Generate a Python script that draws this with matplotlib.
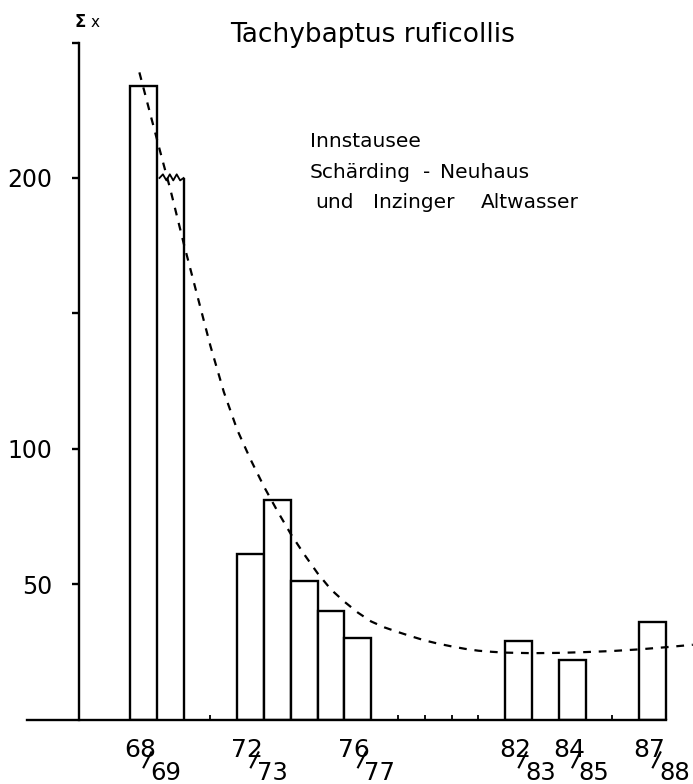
import matplotlib
matplotlib.use('Agg')
import matplotlib.pyplot as plt
import numpy as np

# seasons on the x axis (one bar slot each)
seasons = ['68/69', '69/70', '70/71', '71/72', '72/73', '73/74', '74/75',
           '75/76', '76/77', '77/78', '78/79', '79/80', '80/81', '81/82',
           '82/83', '83/84', '84/85', '85/86', '86/87', '87/88']
# sum of counted birds per season (nan = no count)
counts = [234, 200, np.nan, np.nan, 61, 81, 51, 40, 30, np.nan, np.nan,
          np.nan, np.nan, np.nan, 29, np.nan, 22, np.nan, np.nan, 36]
broken = ['69/70']  # bar cut at the top (zigzag)
labelled = ['68/69', '72/73', '76/77', '82/83', '84/85', '87/88']

# dashed trend line (x in season slots)
trend_x = [0.35, 0.8, 1.2, 1.5, 2.0, 2.5, 3.0, 3.5, 4.0, 4.5, 5.0, 5.5, 6.0,
           6.5, 7.0, 7.5, 8.0, 8.5, 9.0, 9.5, 10.0, 10.5, 11.0, 11.5, 12.0,
           12.5, 13.0, 13.5, 14.0, 15.0, 16.0, 17.0, 18.0, 19.0, 20.0, 21.0]
trend_y = [239, 222, 207, 196, 176, 157, 138, 121, 107, 96, 86, 77, 68.5,
           61, 54, 48, 43.5, 39.5, 36.2, 34, 32.3, 30.7, 29.2, 28, 27,
           26.1, 25.4, 25, 24.7, 24.5, 24.6, 24.9, 25.3, 25.9, 26.7, 27.6]

yticks = [50, 100, 150, 200, 250]
ytick_labels = ['50', '100', '', '200', '']

lw = 1.7
plt.rcParams['font.family'] = ['DejaVu Sans']

fig = plt.figure(figsize=(6.93, 7.84), dpi=100)
ax = fig.add_axes([27 / 693, 1 - 719.5 / 784, 666 / 693, (719.5 - 42.6) / 784])
ax.set_xlim(-3.843, 21.007)
ax.set_ylim(0, 250)

# bars
vals = np.array(counts, dtype=float)
for i, s in enumerate(seasons):
    v = vals[i]
    if np.isnan(v):
        continue
    if s in broken:
        # only the right side and a zigzag top
        ax.vlines(i + 1, 0, v, color='black', lw=lw, zorder=2)
        zx = np.linspace(i + 0.1, i + 1, 8)
        zy = v + np.array([0, 1.5, -1, 1.5, -1, 1.5, -1, 0]) * 0.9
        ax.plot(zx, zy, color='black', lw=1.3, zorder=2)
    else:
        ax.bar(i, v, width=1.0, align='edge', facecolor='white',
               edgecolor='black', linewidth=lw, zorder=2)

# trend curve
ax.plot(trend_x, trend_y, color='black', lw=1.6, ls=(0, (3.5, 3.5)),
        zorder=3, clip_on=False)

# axes look
for side in ['top', 'right']:
    ax.spines[side].set_visible(False)
ax.spines['left'].set_position(('data', -1.9))
ax.spines['left'].set_bounds(0, 250)
ax.spines['bottom'].set_bounds(-3.843, 20)
ax.spines['left'].set_linewidth(lw)
ax.spines['bottom'].set_linewidth(lw)

ax.set_yticks(yticks)
ax.set_yticklabels(ytick_labels)
ax.tick_params(axis='y', direction='out', length=5, width=lw, pad=14,
               labelsize=17)
ax.set_xticks(np.arange(0, 21))
ax.set_xticklabels([])
ax.tick_params(axis='x', direction='in', length=3.8, width=1.3)

# season labels: "68" on top, slash, "69" below and to the right
for s in labelled:
    i = seasons.index(s)
    top, bottom = s.split('/')
    ax.annotate(top, xy=(i, 0), xytext=(-4.3, -27), textcoords='offset points',
                ha='left', va='baseline', fontsize=18, annotation_clip=False)
    ax.plot([i + 0.49, i + 0.81], [-18.0, -11.8], color='black', lw=1.5,
            clip_on=False, solid_capstyle='butt')
    ax.annotate(bottom, xy=(i, 0), xytext=(14.4, -43.5),
                textcoords='offset points', ha='left', va='baseline',
                fontsize=17.5, annotation_clip=False)

# texts
fig.text(230 / 693, 1 - 42 / 784, 'Tachybaptus ruficollis', fontsize=19,
         ha='left', va='baseline')
fig.text(310 / 693, 1 - 147 / 784, 'Innstausee', fontsize=14.5,
         ha='left', va='baseline')
fig.text(310 / 693, 1 - 178 / 784, 'Schärding', fontsize=14.5,
         ha='left', va='baseline')
fig.text(423 / 693, 1 - 178 / 784, '-', fontsize=14.5,
         ha='left', va='baseline')
fig.text(440 / 693, 1 - 178 / 784, 'Neuhaus', fontsize=14.5,
         ha='left', va='baseline')
fig.text(315 / 693, 1 - 208 / 784, 'und', fontsize=14.5,
         ha='left', va='baseline')
fig.text(373 / 693, 1 - 208 / 784, 'Inzinger', fontsize=14.5,
         ha='left', va='baseline')
fig.text(481 / 693, 1 - 208 / 784, 'Altwasser', fontsize=14.5,
         ha='left', va='baseline')
fig.text(75 / 693, 1 - 27 / 784, 'Σ', fontsize=12, fontweight='bold',
         ha='left', va='baseline')
fig.text(91 / 693, 1 - 27 / 784, 'x', fontsize=11, ha='left', va='baseline')

fig.savefig('out.png', dpi=100)
